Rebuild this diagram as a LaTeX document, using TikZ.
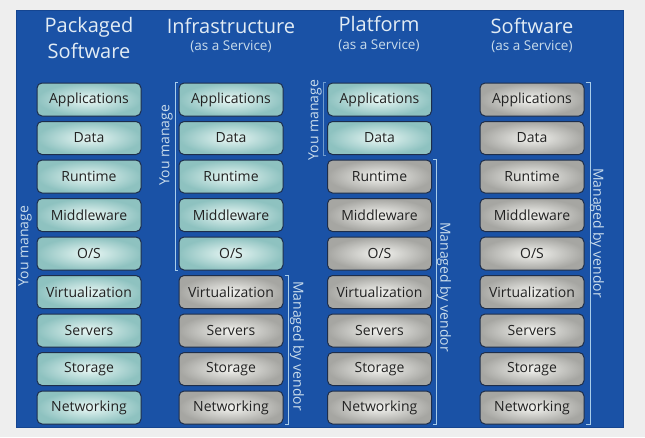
\documentclass[tikz,border=0pt]{standalone}
\usepackage{fontspec}
\setmainfont{Open Sans}
\definecolor{bgout}{HTML}{EEEEEE}
\definecolor{panel}{HTML}{1A52A6}
\definecolor{paneledge}{HTML}{154590}
\definecolor{tealout}{HTML}{8EC2C0}
\definecolor{tealin}{HTML}{EAF8F5}
\definecolor{grayout}{HTML}{A6A6A2}
\definecolor{grayin}{HTML}{F4F4F0}
\definecolor{boxedge}{HTML}{1D2D4A}
\definecolor{boxtext}{HTML}{222222}
\definecolor{headtext}{HTML}{E2ECF4}
\definecolor{subtext}{HTML}{C9DCEB}
\definecolor{brk}{HTML}{A9CDEA}
\tikzset{
  layer/.style={draw=boxedge, line width=1pt, rounded corners=5pt,
    minimum width=104pt, minimum height=33pt, inner sep=0pt,
    font=\fontsize{14}{16}\selectfont, text=boxtext},
  mine/.style={layer, shading=radial, inner color=tealin, outer color=tealout},
  theirs/.style={layer, shading=radial, inner color=grayin, outer color=grayout},
  headline/.style={font=\fontsize{20}{22}\selectfont, text=headtext, inner sep=0pt},
  subline/.style={font=\fontsize{13.5}{15}\selectfont, text=subtext, inner sep=0pt},
  brace/.style={draw=brk, line width=0.9pt},
  sidelabel/.style={font=\fontsize{14}{16}\selectfont, text=subtext, inner sep=0pt}
}
\begin{document}
\begin{tikzpicture}[x=1pt,y=-1pt]
\fill[bgout] (0,0) rectangle (645,437);
\useasboundingbox (0,0) rectangle (645,437);
\fill[panel, draw=paneledge] (16,10) rectangle (623,427);

% headers
\node[headline] (h1a) at (89,27) {Packaged};
\node[headline] (h1b) at (89,51) {Software};
\node[headline] (h2a) at (231,26) {Infrastructure};
\node[subline]  (h2b) at (231,47) {(as a Service)};
\node[headline] (h3a) at (379,24) {Platform};
\node[subline]  (h3b) at (379,46) {(as a Service)};
\node[headline] (h4a) at (532,26) {Software};
\node[subline]  (h4b) at (532,47) {(as a Service)};

% layers
\foreach \txt [count=\i] in {Applications,Data,Runtime,Middleware,O/S,Virtualization,Servers,Storage,Networking}{
  \pgfmathsetmacro{\yy}{99.5+38.5*(\i-1)}
  \node[mine] (a\i) at (89,\yy) {\txt};
  \ifnum\i<6
    \node[mine] (b\i) at (231,\yy) {\txt};
  \else
    \node[theirs] (b\i) at (231,\yy) {\txt};
  \fi
  \ifnum\i<3
    \node[mine] (c\i) at (379.5,\yy) {\txt};
  \else
    \node[theirs] (c\i) at (379.5,\yy) {\txt};
  \fi
  \node[theirs] (d\i) at (532,\yy) {\txt};
}

% column 1
\node[sidelabel, rotate=90] (y1) at (25,246) {You manage};

% column 2
\draw[brace] ([xshift=-0.5pt]b1.north west) -- ++(-3,0) -- ([xshift=-3.5pt]b5.south west) -- ([xshift=-0.5pt]b5.south west);
\node[sidelabel, rotate=90] (y2) at (166,145) {You manage};
\draw[brace] ([xshift=1pt]b6.north east) -- ++(4,0) -- ([xshift=5pt]b9.south east) -- ([xshift=1pt]b9.south east);
\node[sidelabel, rotate=-90] (v2) at (297,346) {Managed by vendor};

% column 3
\draw[brace, draw=brk!60!panel] ([xshift=-1pt]c1.north west) -- ++(-3,0) -- ([xshift=-4pt]c2.south west) -- ([xshift=-1pt]c2.south west);
\node[sidelabel, rotate=90] (y3) at (315,120) {You manage};
\draw[brace] ([xshift=1pt]c3.north east) -- ++(3,0) -- ([xshift=4pt]c9.south east) -- ([xshift=1pt]c9.south east);
\node[sidelabel, rotate=-90] (v3) at (444,287) {Managed by vendor};

% column 4
\draw[brace] ([xshift=1pt]d1.north east) -- ++(5,0) -- ([xshift=6pt]d9.south east) -- ([xshift=1pt]d9.south east);
\node[sidelabel, rotate=-90] (v4) at (597,233) {Managed by vendor};
\end{tikzpicture}
\end{document}
